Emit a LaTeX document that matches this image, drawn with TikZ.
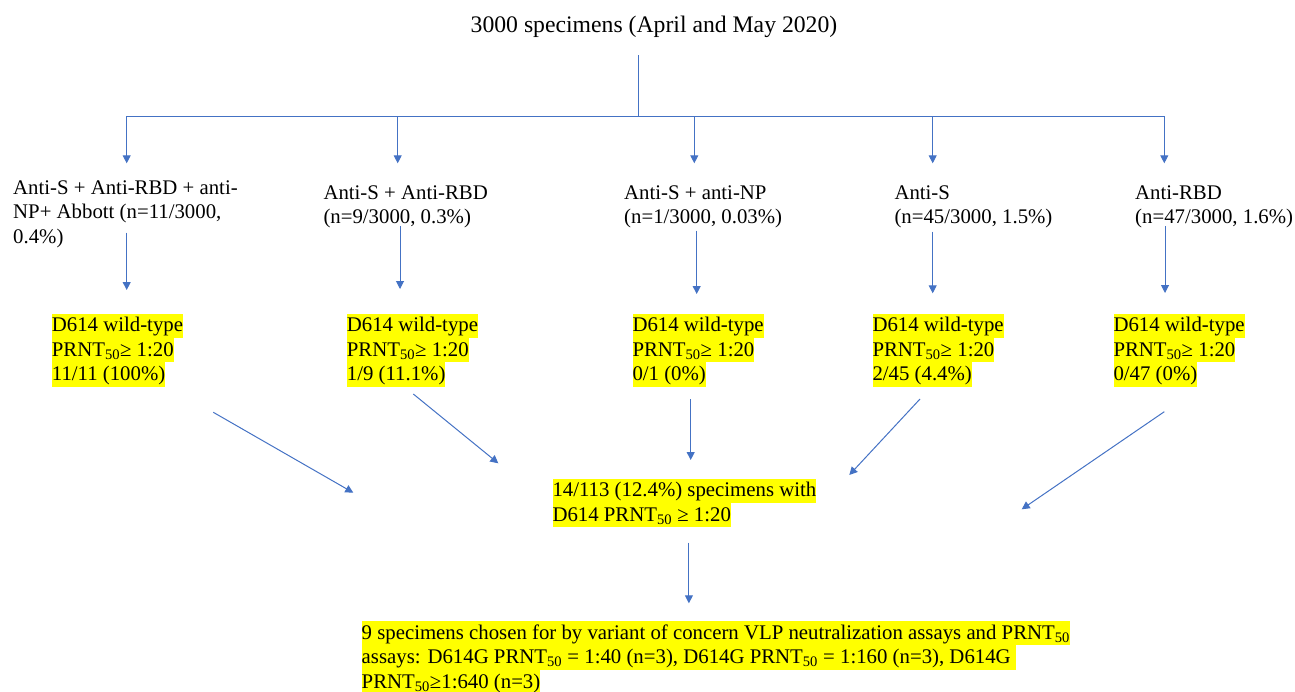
\documentclass[tikz,border=0pt]{standalone}
\usepackage{fontspec}
\setmainfont{Liberation Serif}
\usetikzlibrary{arrows.meta}
\definecolor{arrowblue}{HTML}{4472C4}
\definecolor{hlyellow}{HTML}{FFFF00}
\newcommand{\hlline}[1]{{\setlength{\fboxsep}{0pt}\colorbox{hlyellow}{\rule[-6.1pt]{0pt}{24.4pt}#1}}}
\newcommand{\plline}[1]{\rule[-6.1pt]{0pt}{24.4pt}#1}
\newcommand{\prnt}{PRNT\textsubscript{50}}
\begin{document}
\begin{tikzpicture}[x=1pt,y=-1pt,
  txt/.style={anchor=north west, inner sep=0pt, align=left, font=\fontsize{20.8}{24.4}\selectfont},
  ttl/.style={anchor=base, inner sep=0pt, font=\fontsize{23.7}{28}\selectfont},
  conn/.style={draw=arrowblue, line width=1pt},
  arr/.style={conn, -{Triangle[width=8pt,length=8pt]}}]
\useasboundingbox (0,0) rectangle (1295,691);

% title
\node[ttl] (title) at (654,32.3) {3000 specimens (April and May 2020)};

% level 1
\node[txt] (l1a) at (13,176) {\plline{Anti-S + Anti-RBD + anti-}\\\plline{NP+ Abbott (n=11/3000,}\\\plline{0.4\%)}};
\node[txt] (l1b) at (323.3,181) {\plline{Anti-S + Anti-RBD}\\\plline{(n=9/3000, 0.3\%)}};
\node[txt] (l1c) at (624,181) {\plline{Anti-S + anti-NP}\\\plline{(n=1/3000, 0.03\%)}};
\node[txt] (l1d) at (894.3,181) {\plline{Anti-S}\\\plline{(n=45/3000, 1.5\%)}};
\node[txt] (l1e) at (1135,181) {\plline{Anti-RBD}\\\plline{(n=47/3000, 1.6\%)}};

% level 2
\node[txt] (l2a) at (51.7,313.3) {\hlline{D614 wild-type}\\\hlline{\prnt≥ 1:20}\\\hlline{11/11 (100\%)}};
\node[txt] (l2b) at (346.7,313.3) {\hlline{D614 wild-type}\\\hlline{\prnt≥ 1:20}\\\hlline{1/9 (11.1\%)}};
\node[txt] (l2c) at (632.3,313.3) {\hlline{D614 wild-type}\\\hlline{\prnt≥ 1:20}\\\hlline{0/1 (0\%)}};
\node[txt] (l2d) at (872.3,313.3) {\hlline{D614 wild-type}\\\hlline{\prnt≥ 1:20}\\\hlline{2/45 (4.4\%)}};
\node[txt] (l2e) at (1113.3,313.3) {\hlline{D614 wild-type}\\\hlline{\prnt≥ 1:20}\\\hlline{0/47 (0\%)}};

% level 3
\node[txt] (mid) at (552.3,478.3) {\hlline{14/113 (12.4\%) specimens with}\\\hlline{D614 \prnt{} ≥ 1:20}};

% bottom
\node[txt] (bot) at (361.5,620.7) {\hlline{9 specimens chosen for by variant of concern VLP neutralization assays and \prnt}\\\hlline{assays: D614G \prnt{} = 1:40 (n=3), D614G \prnt{} = 1:160 (n=3), D614G }\\\hlline{\prnt{}≥1:640 (n=3)}};

% coordinates
\coordinate (s0) at (638.3,55);
\coordinate (hub) at (638.3,116);
\coordinate (h1) at (126.7,116);
\coordinate (h2) at (397.7,116);
\coordinate (h3) at (694.3,116);
\coordinate (h4) at (932.7,116);
\coordinate (h5) at (1164.3,116);
\coordinate (t1) at (126.7,163.3);
\coordinate (t2) at (397.7,163.3);
\coordinate (t3) at (694.3,163.3);
\coordinate (t4) at (932.7,163.3);
\coordinate (t5) at (1164.3,163.3);

\coordinate (d1s) at (126.7,232.7); \coordinate (d1e) at (126.7,290);
\coordinate (d2s) at (400,226);     \coordinate (d2e) at (400,289);
\coordinate (d3s) at (696.7,230.7); \coordinate (d3e) at (696.7,294);
\coordinate (d4s) at (932.7,231.7); \coordinate (d4e) at (932.7,293.3);
\coordinate (d5s) at (1165,226);    \coordinate (d5e) at (1165,293);

\coordinate (g1s) at (213.3,412.3); \coordinate (g1e) at (353.3,492.7);
\coordinate (g2s) at (413.3,394);   \coordinate (g2e) at (498.3,463.3);
\coordinate (g3s) at (690.7,399);   \coordinate (g3e) at (690.7,460);
\coordinate (g4s) at (920,399);     \coordinate (g4e) at (849.3,475);
\coordinate (g5s) at (1164.3,411.7);\coordinate (g5e) at (1021.7,509.3);

\coordinate (bs) at (688.9,542.7);  \coordinate (be) at (688.9,603.3);

% connectors
\draw[conn] (s0) -- (hub);
\draw[conn] (h1) -- (h5);
\foreach \i in {1,...,5} {\draw[arr] (h\i) -- (t\i);}
\foreach \i in {1,...,5} {\draw[arr] (d\i s) -- (d\i e);}
\foreach \i in {1,...,5} {\draw[arr] (g\i s) -- (g\i e);}
\draw[arr] (bs) -- (be);
\end{tikzpicture}
\end{document}
